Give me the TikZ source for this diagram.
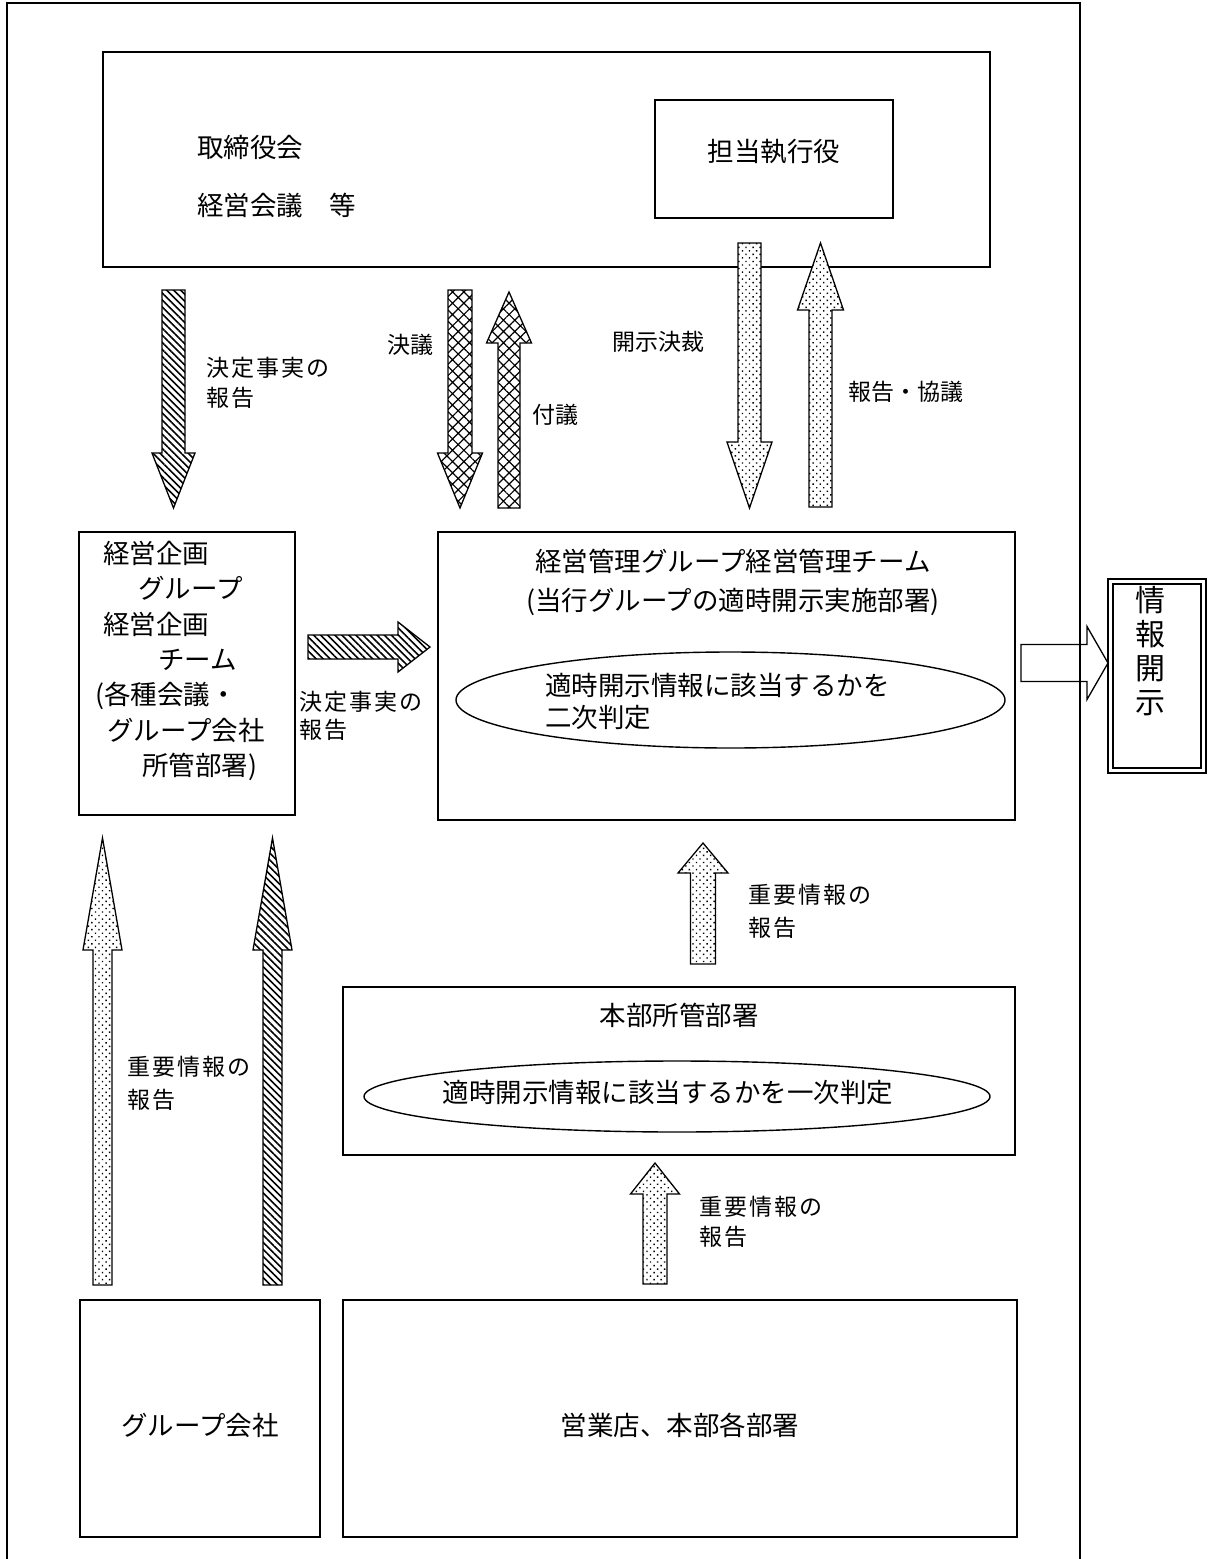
\documentclass[tikz,border=0pt]{standalone}
\usepackage{fontspec}
\setmainfont{Noto Sans CJK JP}
\newfontfamily\spacedjp{Noto Sans CJK JP}[LetterSpace=9]
\usetikzlibrary{patterns.meta,shapes.geometric}

\tikzset{
  box/.style={draw, line width=1.6pt, inner sep=0pt},
  ell/.style={draw, ellipse, line width=1.4pt, inner sep=0pt},
  boxtext/.style={inner sep=0pt, font=\fontsize{26.5}{35.3}\selectfont},
  lbl/.style={inner sep=0pt, anchor=west, align=left, font=\fontsize{23}{31}\selectfont},
  arr/.style={draw, line width=1.3pt, line join=miter, preaction={fill=white}},
  hatchfill/.style={arr, pattern={Lines[angle=-45,distance=5pt,line width=1.6pt]}},
  dotfill/.style={arr, pattern={Dots[angle=45,distance=5pt,radius=1pt]}},
  brickfill/.style={arr, pattern={Hatch[angle=45,distance=8pt,line width=1.2pt]}},
}

% style, x, y start, y head base, y tip, shaft half, head half
\newcommand{\vblock}[7]{%
  \draw[#1] (#2-#6,#3) -- (#2+#6,#3) -- (#2+#6,#4) -- (#2+#7,#4)
  -- (#2,#5) -- (#2-#7,#4) -- (#2-#6,#4) -- cycle;}
% style, y, x start, x head base, x tip, shaft half, head half
\newcommand{\hblock}[7]{%
  \draw[#1] (#3,#2-#6) -- (#4,#2-#6) -- (#4,#2-#7) -- (#5,#2)
  -- (#4,#2+#7) -- (#4,#2+#6) -- (#3,#2+#6) -- cycle;}

\begin{document}
\begin{tikzpicture}[x=1pt,y=-1pt]
\useasboundingbox (0,0) rectangle (1209,1559);
\draw[line width=1.3pt] (7,1559) -- (7,3) -- (1080,3) -- (1080,1559);

% boxes
\node[box, minimum width=887, minimum height=215] (board) at (546.5,159.5) {};
\node[box, minimum width=238, minimum height=118] (exec) at (774,159) {};
\node[box, minimum width=216, minimum height=283] (kikaku) at (187,673.5) {};
\node[box, minimum width=577, minimum height=288] (kanri) at (726.5,676) {};
\node[box, minimum width=672, minimum height=168] (honbu) at (679,1071) {};
\node[box, minimum width=240, minimum height=237] (group) at (200,1418.5) {};
\node[box, minimum width=674, minimum height=237] (eigyo) at (680,1418.5) {};
\node[ell, minimum width=549, minimum height=96] (kanriell) at (730.5,700) {};
\node[ell, minimum width=626, minimum height=71] (honbuell) at (677,1096.5) {};
\node[draw, double, double distance=2.5pt, line width=2.2pt,
  minimum width=93, minimum height=189] (kaiji) at (1157,676) {};

% texts
\node[boxtext, anchor=west] (boardt1) at (197,147) {取締役会};
\node[boxtext, anchor=west] (boardt2) at (197,205) {経営会議　等};
\node[boxtext] (exect) at (774,152) {担当執行役};
\node[boxtext, anchor=west, align=left] (kikakut) at (95,661)
  {\hspace*{8pt}経営企画\\\hspace*{43pt}グループ\\\hspace*{8pt}経営企画\\
   \hspace*{63pt}チーム\\(各種会議・\\\hspace*{12pt}グループ会社\\\hspace*{47pt}所管部署)};
\node[boxtext, align=center, font=\fontsize{26.5}{39}\selectfont] (kanrit) at (733,582.5)
  {経営管理グループ経営管理チーム\\(当行グループの適時開示実施部署)};
\node[boxtext, anchor=west, align=left, font=\fontsize{26.5}{32}\selectfont] (kanriellt)
  at (545,701) {適時開示情報に該当するかを\\二次判定};
\node[boxtext] (honbut) at (679,1015) {本部所管部署};
\node[boxtext] (honbuellt) at (668,1092) {適時開示情報に該当するかを一次判定};
\node[boxtext] (groupt) at (200,1425) {グループ会社};
\node[boxtext] (eigyot) at (680,1425) {営業店、本部各部署};
\node[inner sep=0pt, align=center, font=\fontsize{30}{34}\selectfont] (kaijit)
  at (1150,651) {情\\報\\開\\示};

% labels
\node[lbl, font=\spacedjp\fontsize{23}{30}\selectfont] (kettei1) at (206,383) {決定事実の\\報告};
\node[lbl] (ketsugi) at (387,345) {決議};
\node[lbl] (fugi) at (532,415) {付議};
\node[lbl] (kessai) at (612,342) {開示決裁};
\node[lbl] (kyogi) at (848,392) {報告・協議};
\node[lbl, font=\spacedjp\fontsize{23}{28}\selectfont] (kettei2) at (299,716) {決定事実の\\報告};
\node[lbl, font=\spacedjp\fontsize{23}{33}\selectfont] (juyo1) at (748,911) {重要情報の\\報告};
\node[lbl, font=\spacedjp\fontsize{23}{30}\selectfont] (juyo2) at (699,1222) {重要情報の\\報告};
\node[lbl, font=\spacedjp\fontsize{23}{33}\selectfont] (juyo3) at (127,1083) {重要情報の\\報告};

% block arrows
\vblock{hatchfill}{173.5}{290}{453}{508}{11.5}{21.5}
\vblock{brickfill}{460}{290}{453}{508}{12}{22.5}
\vblock{brickfill}{509}{508}{343}{292}{11}{22.5}
\vblock{dotfill}{749.5}{243}{442}{508}{11.5}{22.5}
\vblock{dotfill}{820.5}{507}{310}{243}{11.5}{23}
\vblock{dotfill}{102.5}{1285}{950}{838}{9.5}{19.5}
\vblock{hatchfill}{272.5}{1285}{950}{838}{9.5}{19.5}
\vblock{dotfill}{703}{964}{873}{843}{12.5}{25}
\vblock{dotfill}{655}{1284}{1194}{1163}{12}{24.5}
\hblock{hatchfill}{647}{308}{398}{430}{12}{25}
\hblock{draw, line width=1.3pt}{663}{1021}{1087}{1108}{18.5}{36.5}
\end{tikzpicture}
\end{document}
